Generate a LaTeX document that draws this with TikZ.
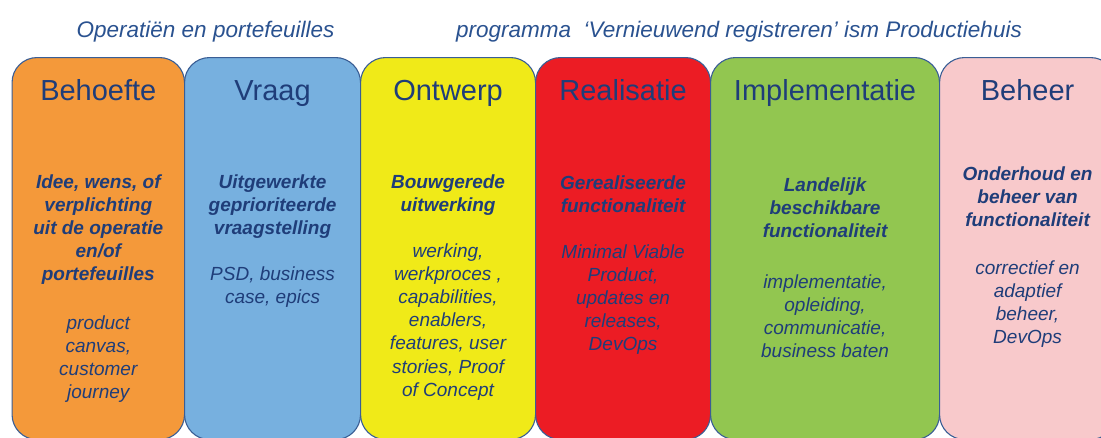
\documentclass[tikz,border=0pt]{standalone}
\usepackage{fontspec}
\setmainfont{Liberation Sans}
\definecolor{rand}{HTML}{3A5E95}
\definecolor{inkt}{HTML}{1F3D79}
\definecolor{kopblauw}{HTML}{2A5290}
\definecolor{oranje}{HTML}{F4993A}
\definecolor{lichtblauw}{HTML}{77B0DF}
\definecolor{geel}{HTML}{F0EA18}
\definecolor{rood}{HTML}{EC1C24}
\definecolor{groen}{HTML}{92C650}
\definecolor{roze}{HTML}{F8C9CB}
\def\fase{\node[fase,anchor=north west]}
\def\titel{\node[titel,anchor=base]}
\def\vet{\node[vet,anchor=base]}
\def\cursief{\node[cursief,anchor=base]}

\begin{document}
\begin{tikzpicture}[x=1pt,y=-1pt,
    fase/.style={draw=rand,line width=1.1pt,rounded corners=25pt,minimum height=382pt,inner sep=0pt},
    titel/.style={text=inkt,inner sep=0pt,font=\fontsize{29}{34}\selectfont},
    vet/.style={text=inkt,align=center,inner sep=0pt,font=\fontsize{19}{23.2}\selectfont\bfseries\itshape},
    cursief/.style={text=inkt,align=center,inner sep=0pt,font=\fontsize{19}{23.2}\selectfont\itshape},
    kop/.style={text=kopblauw,inner sep=0pt,anchor=base west,font=\fontsize{22.5}{26}\selectfont\itshape}]
    \useasboundingbox (0,0) rectangle (1101,437);
    \clip (0,0) rectangle (1101,437);
    \fill[white] (0,0) rectangle (1101,437);

    \node[kop] (operatie) at (76.5,37) {Operatiën en portefeuilles};
    \node[kop] (programma) at (456,37) {programma\ \ ‘Vernieuwend registreren’ ism Productiehuis};

    \fase[fill=oranje,minimum width=172.5pt] (behoefte) at (11.5,57) {};
    \fase[fill=lichtblauw,minimum width=176pt] (vraag) at (184,57) {};
    \fase[fill=geel,minimum width=175pt] (ontwerp) at (360,57) {};
    \fase[fill=rood,minimum width=175pt] (realisatie) at (535,57) {};
    \fase[fill=groen,minimum width=229pt] (implementatie) at (710,57) {};
    \fase[fill=roze,minimum width=176pt] (beheer) at (939,57) {};

    \titel (behoefte-t) at (behoefte.center |- 0,100) {Behoefte};
    \titel (vraag-t) at (vraag.center |- 0,100) {Vraag};
    \titel (ontwerp-t) at (ontwerp.center |- 0,100) {Ontwerp};
    \titel (realisatie-t) at (realisatie.center |- 0,100) {Realisatie};
    \titel (implementatie-t) at (implementatie.center |- 0,100) {Implementatie};
    \titel (beheer-t) at (beheer.center |- 0,100) {Beheer};

    \vet (behoefte-a) at (behoefte.center |- 0,280.8) {Idee, wens, of\\verplichting\\uit de operatie\\en/of\\portefeuilles};
    \cursief (behoefte-b) at (behoefte.center |- 0,398.6) {product\\canvas,\\customer\\journey};
    \vet (vraag-a) at (vraag.center |- 0,234.4) {Uitgewerkte\\geprioriteerde\\vraagstelling};
    \cursief (vraag-b) at (vraag.center |- 0,303.2) {PSD, business\\case, epics};
    \vet (ontwerp-a) at (ontwerp.center |- 0,211.2) {Bouwgerede\\uitwerking};
    \cursief (ontwerp-b) at (ontwerp.center |- 0,396.2) {werking,\\werkproces ,\\capabilities,\\enablers,\\features, user\\stories, Proof\\of Concept};
    \vet (realisatie-a) at (realisatie.center |- 0,212.2) {Gerealiseerde\\functionaliteit};
    \cursief (realisatie-b) at (realisatie.center |- 0,350.8) {Minimal Viable\\Product,\\updates en\\releases,\\DevOps};
    \vet (implementatie-a) at (implementatie.center |- 0,237.4) {Landelijk\\beschikbare\\functionaliteit};
    \cursief (implementatie-b) at (implementatie.center |- 0,357.6) {implementatie,\\opleiding,\\communicatie,\\business baten};
    \vet (beheer-a) at (beheer.center |- 0,226.4) {Onderhoud en\\beheer van\\functionaliteit};
    \cursief (beheer-b) at (beheer.center |- 0,343.6) {correctief en\\adaptief\\beheer,\\DevOps};
\end{tikzpicture}
\end{document}
